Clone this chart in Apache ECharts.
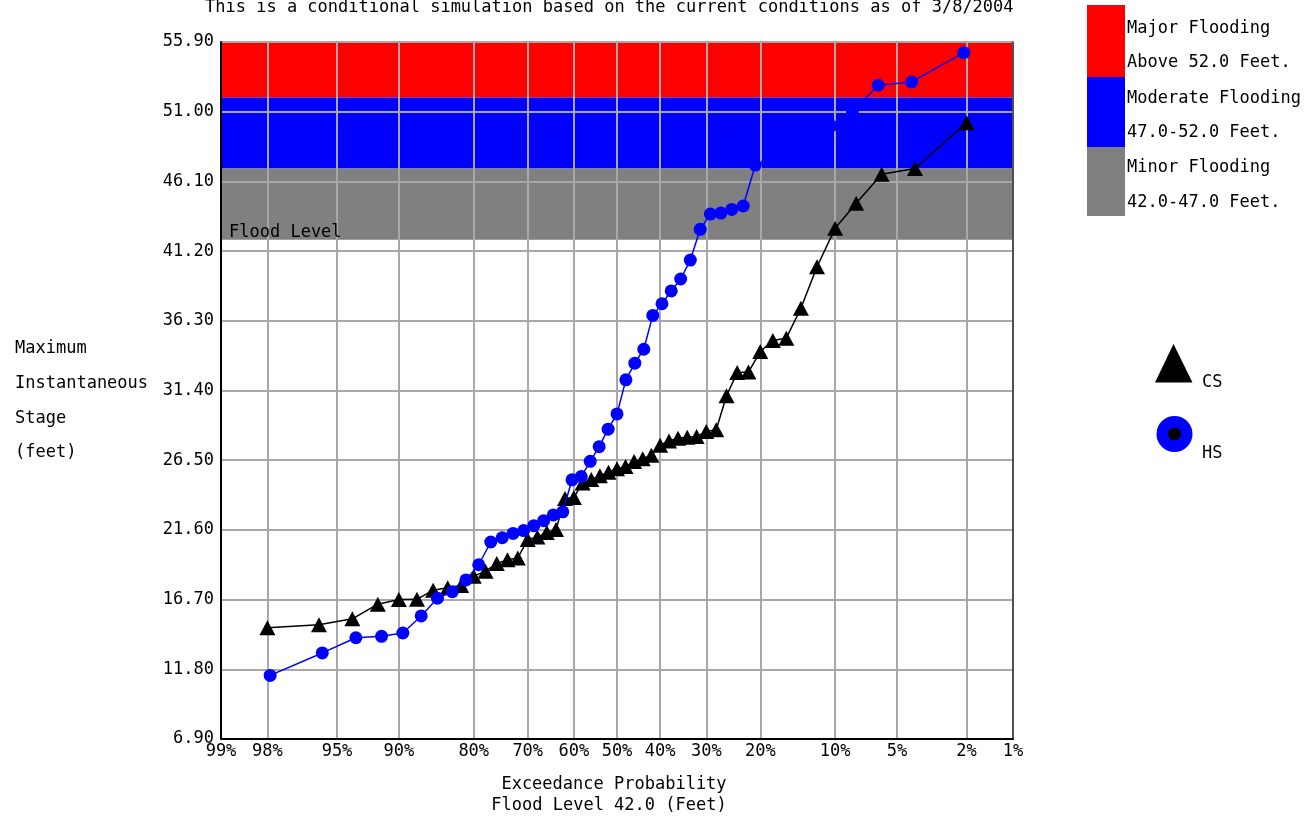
<!DOCTYPE html>
<html><head><meta charset="utf-8">
<script src="https://cdn.jsdelivr.net/npm/echarts@6/dist/echarts.min.js"></script>
<style>html,body{margin:0;padding:0;background:#fff}#c{width:1309px;height:817px}</style>
</head><body><div id="c"></div>
<script>
// ---------- data ----------
const tickPercents = [99, 98, 95, 90, 80, 70, 60, 50, 40, 30, 20, 10, 5, 2, 1];
const tickLabels = ['99%', '98%', '95%', '90%', '80%', '70%', '60%', '50%', '40%', '30%', '20%', '10%', '5%', '2%', '1%'];
const yTicks = [6.90, 11.80, 16.70, 21.60, 26.50, 31.40, 36.30, 41.20, 46.10, 51.00, 55.90];

const csExceed = [98, 96, 94, 92, 90, 88, 86, 84, 82, 80, 78, 76, 74, 72, 70, 68, 66, 64, 62, 60,
  58, 56, 54, 52, 50, 48, 46, 44, 42, 40, 38, 36, 34, 32, 30, 28, 26, 24, 22, 20,
  18, 16, 14, 12, 10, 8, 6, 4, 2];
const csStage = [14.72, 14.93, 15.35, 16.38, 16.70, 16.72, 17.36, 17.53, 17.69, 18.35,
  18.70, 19.23, 19.50, 19.63, 20.92, 21.10, 21.41, 21.62, 23.81, 23.88,
  24.90, 25.15, 25.40, 25.65, 25.90, 26.05, 26.40, 26.60, 26.85, 27.55,
  27.85, 28.05, 28.12, 28.17, 28.52, 28.64, 31.03, 32.66, 32.70, 34.14,
  34.91, 35.08, 37.18, 40.10, 42.80, 44.56, 46.61, 47.01, 50.22];

const hsExceed = [97.92, 95.83, 93.75, 91.67, 89.58, 87.50, 85.42, 83.33, 81.25, 79.17,
  77.08, 75.00, 72.92, 70.83, 68.75, 66.67, 64.58, 62.50, 60.42, 58.33,
  56.25, 54.17, 52.08, 50.00, 47.92, 45.83, 43.75, 41.67, 39.58, 37.50,
  35.42, 33.33, 31.25, 29.17, 27.08, 25.00, 22.92, 20.83, 18.75, 16.67,
  14.58, 12.50, 10.42, 8.33, 6.25, 4.17, 2.08];
const hsStage = [11.37, 12.95, 14.02, 14.12, 14.35, 15.55, 16.80, 17.25, 18.08, 19.15,
  20.75, 21.05, 21.35, 21.55, 21.90, 22.25, 22.65, 22.87, 25.12, 25.35,
  26.42, 27.45, 28.68, 29.75, 32.15, 33.32, 34.30, 36.68, 37.50, 38.40,
  39.24, 40.57, 42.73, 43.80, 43.87, 44.13, 44.37, 47.25, 47.50, 48.10,
  48.70, 49.30, 50.00, 51.00, 52.86, 53.09, 55.15];

const bandLow = [52.0, 47.0, 42.0];
const bandHigh = [55.9, 52.0, 47.0];
const bandColors = ['#ff0000', '#0000ff', '#808080'];
const bandNames = ['Major Flooding', 'Moderate Flooding', 'Minor Flooding'];
const bandRanges = ['Above 52.0 Feet.', '47.0-52.0 Feet.', '42.0-47.0 Feet.'];
const floodLevel = 42.0;
const floodLabel = 'Flood Level';

// ---------- probability scale ----------
function probit(p) {
  const a = [-3.969683028665376e+01, 2.209460984245205e+02, -2.759285104469687e+02, 1.383577518672690e+02, -3.066479806614716e+01, 2.506628277459239e+00];
  const b = [-5.447609879822406e+01, 1.615858368580409e+02, -1.556989798598866e+02, 6.680131188771972e+01, -1.328068155288572e+01];
  const c = [-7.784894002430293e-03, -3.223964580411365e-01, -2.400758277161838e+00, -2.549671010050138e+00, 4.374664141464968e+00, 2.938163982698783e+00];
  const d = [7.784695709041462e-03, 3.224671290700398e-01, 2.445134137142996e+00, 3.754408661907416e+00];
  const pl = 0.02425, ph = 1 - pl; let q, r;
  if (p < pl) { q = Math.sqrt(-2 * Math.log(p)); return (((((c[0]*q+c[1])*q+c[2])*q+c[3])*q+c[4])*q+c[5]) / ((((d[0]*q+d[1])*q+d[2])*q+d[3])*q+1); }
  if (p <= ph) { q = p - 0.5; r = q*q; return (((((a[0]*r+a[1])*r+a[2])*r+a[3])*r+a[4])*r+a[5])*q / (((((b[0]*r+b[1])*r+b[2])*r+b[3])*r+b[4])*r+1); }
  q = Math.sqrt(-2 * Math.log(1 - p)); return -(((((c[0]*q+c[1])*q+c[2])*q+c[3])*q+c[4])*q+c[5]) / ((((d[0]*q+d[1])*q+d[2])*q+d[3])*q+1);
}
const toX = pct => probit(1 - pct / 100);
const tickZ = tickPercents.map(toX);
const xMin = tickZ[0], xMax = tickZ[tickZ.length - 1];
const yMin = yTicks[0], yMax = yTicks[yTicks.length - 1];

const FONT = '"DejaVu Sans Mono", monospace';
const txt = (text, x, y, align) => ({
  type: 'text', silent: true,
  style: { text, x, y, font: '17px ' + FONT, fill: '#000', align: align || 'left', verticalAlign: 'middle' }
});

const chart = echarts.init(document.getElementById('c'), null, { renderer: 'canvas' });

const graphics = [
  txt('This is a conditional simulation based on the current conditions as of 3/8/2004', 205, 8),
  txt('Maximum', 15, 349), txt('Instantaneous', 15, 384), txt('Stage', 15, 419), txt('(feet)', 15, 453),
  txt('Exceedance Probability', 614, 785, 'center'),
  txt('Flood Level 42.0 (Feet)', 609, 806, 'center'),
  // band legend
  { type: 'rect', shape: { x: 1087, y: 5, width: 38, height: 72 }, style: { fill: bandColors[0] } },
  { type: 'rect', shape: { x: 1087, y: 77, width: 38, height: 70 }, style: { fill: bandColors[1] } },
  { type: 'rect', shape: { x: 1087, y: 147, width: 38, height: 69 }, style: { fill: bandColors[2] } },
  txt(bandNames[0], 1127, 29), txt(bandRanges[0], 1127, 63),
  txt(bandNames[1], 1127, 99), txt(bandRanges[1], 1127, 133),
  txt(bandNames[2], 1127, 168), txt(bandRanges[2], 1127, 203),
  // series legend
  { type: 'polygon', shape: { points: [[1173.5, 344], [1155, 382.5], [1192.5, 382.5]] }, style: { fill: '#000' } },
  txt('CS', 1202, 383),
  { type: 'circle', shape: { cx: 1174.5, cy: 434, r: 18 }, style: { fill: '#0000ff' } },
  { type: 'circle', shape: { cx: 1174.5, cy: 434, r: 6.5 }, style: { fill: '#000' } },
  txt('HS', 1202, 454)
];

const axisLabelStyle = { fontFamily: FONT, fontSize: 17, color: '#000' };

chart.setOption({
  animation: false,
  backgroundColor: '#fff',
  grid: { left: 221, right: 296, top: 42, bottom: 78, containLabel: false },
  xAxis: {
    type: 'value', min: xMin, max: xMax, z: 3,
    axisLine: { show: true, onZero: false, lineStyle: { color: '#000', width: 2 } },
    axisTick: { show: false, customValues: tickZ },
    axisLabel: {
      ...axisLabelStyle, margin: 4, showMinLabel: true, showMaxLabel: true,
      customValues: tickZ,
      formatter: v => {
        let best = 0, bd = Infinity;
        tickZ.forEach((z, i) => { const dd = Math.abs(z - v); if (dd < bd) { bd = dd; best = i; } });
        return tickLabels[best];
      }
    },
    splitLine: { show: true, lineStyle: { color: '#a8a8a8', width: 2 } }
  },
  yAxis: [{
    type: 'value', min: yMin, max: yMax, z: 3,
    axisLine: { show: true, onZero: false, lineStyle: { color: '#000', width: 2 } },
    axisTick: { show: false, customValues: yTicks },
    axisLabel: { ...axisLabelStyle, margin: 7, customValues: yTicks, formatter: v => v.toFixed(2) },
    splitLine: { show: true, lineStyle: { color: '#a8a8a8', width: 2 } }
  }, {
    type: 'value', min: yMin, max: yMax, position: 'right', z: 3,
    axisLine: { show: true, onZero: false, lineStyle: { color: '#333', width: 1.5 } },
    axisTick: { show: false }, axisLabel: { show: false }, splitLine: { show: false }
  }],
  graphic: graphics,
  series: [
    {
      type: 'custom', z: 1, silent: true,
      data: bandLow.map((lo, i) => [0, lo, bandHigh[i], i]),
      encode: { x: 0, y: [1, 2] },
      renderItem: (params, api) => {
        const lo = api.value(1), hi = api.value(2), i = api.value(3);
        const p1 = api.coord([xMin, hi]);
        const p2 = api.coord([xMax, lo]);
        return {
          type: 'rect',
          shape: { x: p1[0], y: p1[1], width: p2[0] - p1[0], height: p2[1] - p1[1] },
          style: { fill: bandColors[i] }
        };
      }
    },
    {
      type: 'custom', z: 4, silent: true,
      data: [[0, floodLevel]],
      encode: { x: 0, y: 1 },
      renderItem: (params, api) => {
        const p = api.coord([xMin, api.value(1)]);
        return {
          type: 'text',
          style: { text: floodLabel, x: p[0] + 8, y: p[1] - 7, font: '17px ' + FONT, fill: '#000', align: 'left', verticalAlign: 'middle' }
        };
      }
    },
    {
      type: 'line', name: 'CS', z: 5, showAllSymbol: true,
      data: csExceed.map((e, i) => [toX(e), csStage[i]]),
      symbol: 'triangle', symbolSize: [16, 15],
      itemStyle: { color: '#000' },
      lineStyle: { color: '#000', width: 1.5 }
    },
    {
      type: 'line', name: 'HS', z: 6, showAllSymbol: true,
      data: hsExceed.map((e, i) => [toX(e), hsStage[i]]),
      symbol: 'circle', symbolSize: 13,
      itemStyle: { color: '#0000ff' },
      lineStyle: { color: '#0000ff', width: 1.5 }
    }
  ]
});
</script>
</body></html>
